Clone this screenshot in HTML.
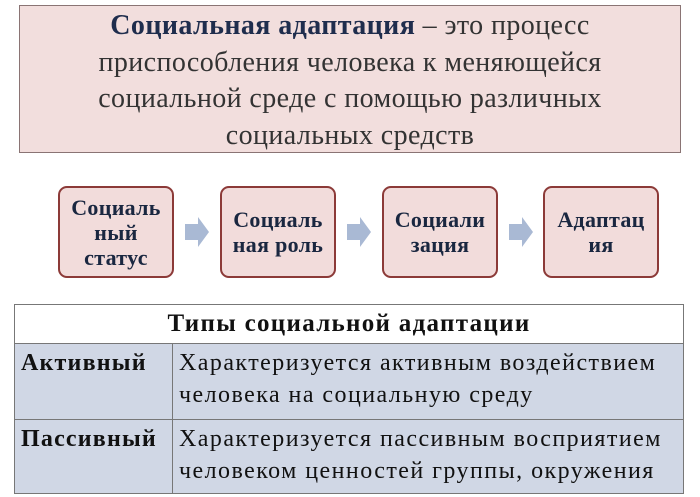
<!DOCTYPE html>
<html><head><meta charset="utf-8"><style>
body{margin:0;width:700px;height:497px;background:#fff;position:relative;overflow:hidden;font-family:"Liberation Serif","DejaVu Serif",serif;}
.top{position:absolute;left:19px;top:5px;width:662px;height:148px;background:#f2dedd;border:1px solid #8a7474;text-align:center;font-size:28px;line-height:36.5px;color:#333;box-sizing:border-box;padding-top:2px;letter-spacing:0.4px;}
.top b{color:#1f2d4d;}
.box{position:absolute;top:186px;width:116px;height:92px;background:#f2dcdb;border:2px solid #8c3a38;border-radius:9px;box-sizing:border-box;display:flex;align-items:center;justify-content:center;text-align:center;font-weight:bold;font-size:22px;line-height:25px;color:#1a2740;letter-spacing:0.3px;}
table{position:absolute;left:14px;top:304px;width:670px;border-collapse:collapse;font-size:24px;color:#111;}
td{border:1px solid #777;padding:0 6px;line-height:32px;vertical-align:top;}
.h{background:#fff;text-align:center;font-weight:bold;height:38px;vertical-align:middle;letter-spacing:1.3px;font-size:25px;}
.r td{background:#d0d7e5;}
.l{letter-spacing:1.2px;}
.d{letter-spacing:1.45px;}
</style></head><body>
<div class="top"><b>Социальная адаптация</b> – это процесс<br>приспособления человека к меняющейся<br>социальной среде с помощью различных<br>социальных средств</div>
<div class="box" style="left:58px">Социаль<br>ный<br>статус</div>
<div class="box" style="left:220px">Социаль<br>ная роль</div>
<div class="box" style="left:382px">Социали<br>зация</div>
<div class="box" style="left:543px">Адаптац<br>ия</div>
<svg style="position:absolute;left:0;top:0" width="700" height="497">
<g fill="#a9b9d4">
<polygon points="185,224 198,224 198,217 209,232 198,247 198,240 185,240"/>
<polygon points="347,224 360,224 360,217 371,232 360,247 360,240 347,240"/>
<polygon points="509,224 522,224 522,217 533,232 522,247 522,240 509,240"/>
</g></svg>
<table>
<tr><td colspan="2" class="h">Типы социальной адаптации</td></tr>
<tr class="r"><td class="l" style="width:145px;height:72px;font-weight:bold;padding-top:3px">Активный</td><td class="d" style="padding-top:3px">Характеризуется активным воздействием<br>человека на социальную среду</td></tr>
<tr class="r"><td class="l" style="height:70px;font-weight:bold;padding-top:3px">Пассивный</td><td class="d" style="padding-top:3px">Характеризуется пассивным восприятием<br>человеком ценностей группы, окружения</td></tr>
</table>
</body></html>
